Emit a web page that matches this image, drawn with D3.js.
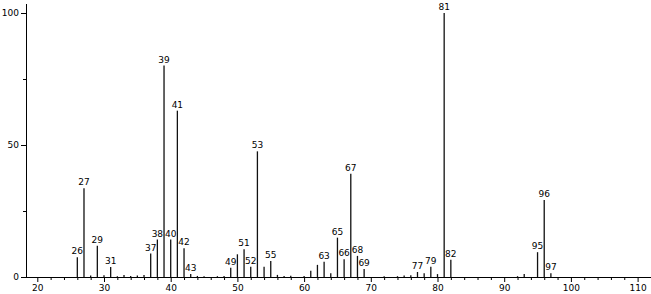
<!DOCTYPE html>
<html>
<head>
<meta charset="utf-8">
<script src="https://cdn.jsdelivr.net/npm/d3@7"></script>
<style>
  body { margin: 0; background: #fff; }
  svg { display: block; }
  text { font-family: "DejaVu Sans", sans-serif; font-size: 9px; fill: #000; }
</style>
</head>
<body>
<div id="chart"></div>
<script>
// m/z values and relative intensities (%)
const masses = [26, 27, 28, 29, 30, 31, 32, 33, 34, 35, 36, 37, 38, 39, 40, 41, 42, 43, 44, 45, 47, 48,
                49, 50, 51, 52, 53, 54, 55, 56, 57, 58, 60, 61, 62, 63, 64, 65, 66, 67, 68, 69,
                72, 74, 75, 76, 77, 78, 79, 80, 81, 82, 92, 93, 95, 96, 97];
const intensities = [7.5, 33.6, 0.6, 11.8, 0.7, 3.8, 0.3, 0.8, 0.4, 0.6, 0.8, 8.9, 14.2, 80.1, 14.2, 63.0, 10.9, 1.1, 0.4, 0.3, 0.3, 0.4,
                     3.5, 8.6, 10.5, 3.9, 47.6, 3.9, 6.1, 0.8, 0.4, 0.5, 0.4, 2.4, 4.6, 5.8, 1.4, 14.9, 6.7, 39.1, 8.0, 3.0,
                     0.3, 0.3, 0.6, 0.7, 1.9, 1.4, 3.9, 1.1, 100, 6.5, 0.3, 1.1, 9.4, 29.2, 1.4];
// peaks that carry a label
const labeled = [26, 27, 29, 31, 37, 38, 39, 40, 41, 42, 43, 49, 51, 52, 53, 55, 63, 65, 66, 67, 68, 69,
                 77, 79, 81, 82, 95, 96, 97];
const xMajor = [20, 30, 40, 50, 60, 70, 80, 90, 100, 110];
const yMajor = [0, 50, 100];
const yMinor = [25, 75];

const width = 651, height = 294;
const peaks = masses.map((m, i) => ({mz: m, value: intensities[i]}));

const x = d3.scaleLinear().domain([20, 110]).range([37.3, 637.6]);
const y = d3.scaleLinear().domain([0, 100]).range([277, 13]);

const svg = d3.select("#chart").append("svg")
    .attr("width", width)
    .attr("height", height);

// peak sticks
svg.append("g").selectAll("line")
    .data(peaks)
    .enter()
    .append("line")
    .attr("x1", d => x(d.mz))
    .attr("x2", d => x(d.mz))
    .attr("y1", y(0))
    .attr("y2", d => y(d.value))
    .attr("stroke", "#111")
    .attr("stroke-width", 1.3);

// peak labels
svg.append("g").selectAll("text")
    .data(peaks.filter(d => labeled.includes(d.mz)))
    .enter()
    .append("text")
    .attr("x", d => x(d.mz))
    .attr("y", d => y(d.value) - 3)
    .attr("text-anchor", "middle")
    .text(d => d.mz);

// x axis: major + minor ticks
const xAxis = svg.append("g")
    .attr("transform", "translate(0," + y(0) + ")")
    .call(d3.axisBottom(x).tickValues(xMajor).tickSize(5).tickPadding(3).tickSizeOuter(0));
xAxis.select(".domain").attr("d", "M26,0.5H651");
xAxis.selectAll("text").style("font-size", "9px");

svg.append("g")
    .attr("transform", "translate(0," + y(0) + ")")
    .call(d3.axisBottom(x).tickValues(d3.range(22, 111, 2).filter(v => v % 10 !== 0)).tickSize(3).tickFormat(""))
    .call(g => g.select(".domain").remove());

// y axis
const yAxis = svg.append("g")
    .attr("transform", "translate(26,0)")
    .call(d3.axisLeft(y).tickValues(yMajor).tickSize(5).tickPadding(2).tickSizeOuter(0));
yAxis.select(".domain").attr("d", "M0.5,277V4");

svg.append("g")
    .attr("transform", "translate(26,0)")
    .call(d3.axisLeft(y).tickValues(yMinor).tickSize(3).tickFormat(""))
    .call(g => g.select(".domain").remove());
</script>
</body>
</html>
